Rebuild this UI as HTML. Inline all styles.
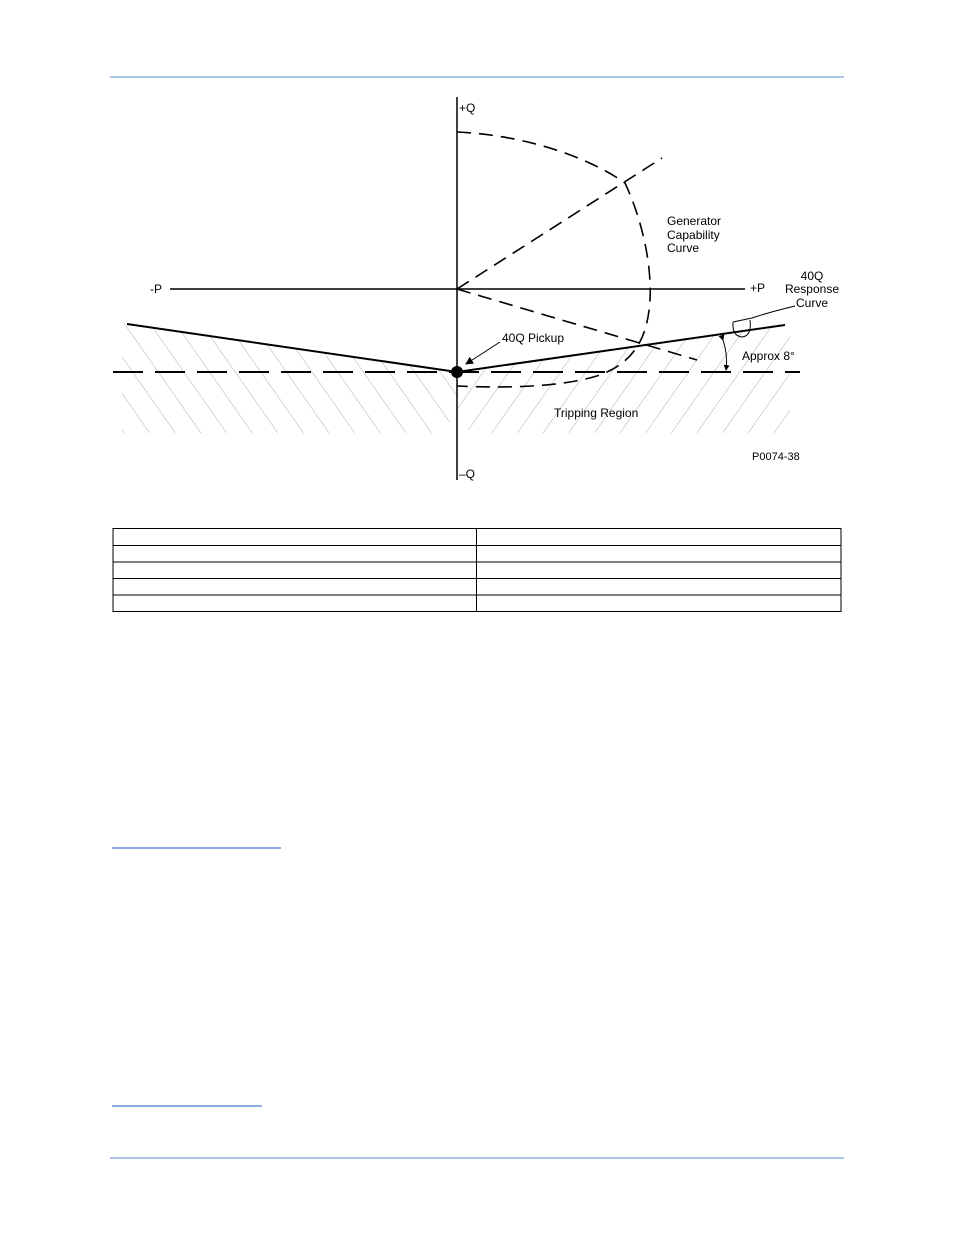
<!DOCTYPE html>
<html><head><style>
html,body{margin:0;padding:0;background:#fff;}
body{width:954px;height:1235px;position:relative;overflow:hidden;font-family:"Liberation Sans",Arial,sans-serif;}
svg{position:absolute;left:0;top:0;}
</style></head><body>
<svg width="954" height="1235" viewBox="0 0 954 1235" xmlns="http://www.w3.org/2000/svg">
<defs>
<pattern id="hl" width="21" height="40" patternUnits="userSpaceOnUse" patternTransform="rotate(-35)">
<line x1="0" y1="0" x2="0" y2="40" stroke="#999" stroke-width="0.8"/></pattern>
<pattern id="hr" width="21" height="40" patternUnits="userSpaceOnUse" patternTransform="rotate(35)">
<line x1="0" y1="0" x2="0" y2="40" stroke="#999" stroke-width="0.8"/></pattern>
<marker id="ar" markerWidth="8" markerHeight="8" refX="7" refY="4" orient="auto" markerUnits="userSpaceOnUse"><path d="M0,0 L8,4 L0,8z" fill="#000"/></marker>
<marker id="as" markerWidth="6" markerHeight="6" refX="5" refY="3" orient="auto" markerUnits="userSpaceOnUse"><path d="M0,0 L6,3 L0,6z" fill="#000"/></marker>
</defs>
<line x1="110" y1="77" x2="844" y2="77" stroke="#8fb0e0" stroke-width="1.5"/>
<line x1="110" y1="1158" x2="844" y2="1158" stroke="#8fb0e0" stroke-width="1.5"/>
<polygon points="122,322 457,372 457,410 443,433 122,433" fill="url(#hl)"/>
<polygon points="457,372 790,323 790,433 470,433 457,410" fill="url(#hr)"/>
<line x1="457" y1="97" x2="457" y2="480" stroke="#000" stroke-width="1.5"/>
<line x1="170" y1="289" x2="745" y2="289" stroke="#000" stroke-width="1.5"/>
<line x1="113" y1="372" x2="800" y2="372" stroke="#000" stroke-width="2" stroke-dasharray="30,12"/>
<g fill="none" stroke="#000" stroke-width="1.6" stroke-dasharray="14,8">
<path d="M457,132 C540,136 600,165 625,183 C640,215 652,260 650,300 C648,330 640,360 600,375 C560,388 500,388 457,386"/>
<line x1="457" y1="289" x2="662" y2="158"/>
<line x1="457" y1="289" x2="697" y2="360"/>
</g>
<line x1="127" y1="324" x2="457" y2="372" stroke="#000" stroke-width="2"/>
<line x1="457" y1="372" x2="785" y2="325" stroke="#000" stroke-width="2"/>
<circle cx="457" cy="372" r="6" fill="#000"/>
<line x1="500" y1="342" x2="466" y2="364" stroke="#000" stroke-width="1" marker-end="url(#ar)"/>
<path d="M723,340 Q728,355 726,370" fill="none" stroke="#000" stroke-width="1" marker-start="url(#as)" marker-end="url(#as)"/>
<path d="M733,322 Q732,336 742,337 Q752,336 750,320" fill="none" stroke="#000" stroke-width="1"/>
<path d="M733,322 L752,318 Q770,312 795,306" fill="none" stroke="#000" stroke-width="1"/>
<g font-size="12" fill="#000">
<text x="459" y="112">+Q</text>
<text x="459" y="478">–Q</text>
<text x="150" y="293">-P</text>
<text x="750" y="292">+P</text>
<text x="667" y="225">Generator</text>
<text x="667" y="239">Capability</text>
<text x="667" y="252">Curve</text>
<text x="812" y="280" text-anchor="middle">40Q</text>
<text x="812" y="293" text-anchor="middle">Response</text>
<text x="812" y="307" text-anchor="middle">Curve</text>
<text x="502" y="342">40Q Pickup</text>
<text x="742" y="360">Approx 8°</text>
<text x="554" y="417">Tripping Region</text>
<text x="752" y="460" font-size="11">P0074-38</text>
</g>
<g stroke="#000" stroke-width="1" fill="none">
<rect x="113" y="528.5" width="728" height="83"/>
<line x1="113" y1="545.5" x2="841" y2="545.5"/>
<line x1="113" y1="562" x2="841" y2="562"/>
<line x1="113" y1="578.5" x2="841" y2="578.5"/>
<line x1="113" y1="595" x2="841" y2="595"/>
<line x1="476.5" y1="528" x2="476.5" y2="612"/>
</g>
<line x1="112" y1="848" x2="281" y2="848" stroke="#1a56c8" stroke-width="1"/>
<line x1="112" y1="1106" x2="262" y2="1106" stroke="#1a56c8" stroke-width="1"/>
</svg>
</body></html>
